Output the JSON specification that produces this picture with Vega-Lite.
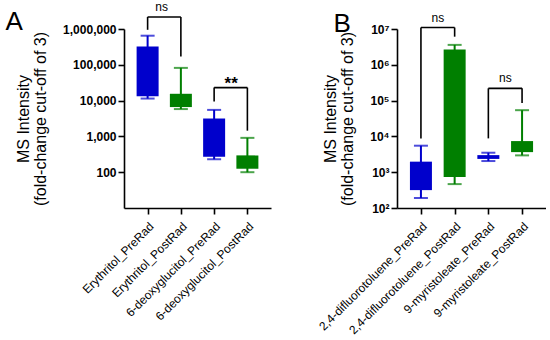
{
  "$schema": "https://vega.github.io/schema/vega-lite/v6.json",
  "padding": {"left": 5, "top": 0, "right": 0, "bottom": 0},
  "bounds": "flush",
  "spacing": 126,
  "config": {
    "view": {"stroke": null},
    "font": "Liberation Sans",
    "axis": {"domainColor": "#000", "tickColor": "#000", "labelColor": "#000", "titleColor": "#000", "domainWidth": 1.6, "tickWidth": 1.6, "tickSize": 6, "grid": false, "labelFont": "Liberation Sans", "titleFont": "Liberation Sans"}
  },
  "datasets": {
    "boxA": [
      {"cat": "Erythritol_PreRad", "cond": "PreRad", "min": 11400, "q1": 13200, "q3": 325000, "max": 650000},
      {"cat": "Erythritol_PostRad", "cond": "PostRad", "min": 5800, "q1": 6600, "q3": 15500, "max": 82000},
      {"cat": "6-deoxyglucitol_PreRad", "cond": "PreRad", "min": 230, "q1": 270, "q3": 3160, "max": 5500},
      {"cat": "6-deoxyglucitol_PostRad", "cond": "PostRad", "min": 100, "q1": 125, "q3": 295, "max": 910}
    ],
    "boxB": [
      {"cat": "2,4-difluorotoluene_PreRad", "cond": "PreRad", "min": 190, "q1": 316, "q3": 1970, "max": 5500},
      {"cat": "2,4-difluorotoluene_PostRad", "cond": "PostRad", "min": 465, "q1": 740, "q3": 2660000, "max": 3600000},
      {"cat": "9-myristoleate_PreRad", "cond": "PreRad", "min": 2050, "q1": 2350, "q3": 3000, "max": 3500},
      {"cat": "9-myristoleate_PostRad", "cond": "PostRad", "min": 2950, "q1": 3640, "q3": 7400, "max": 54000}
    ],
    "brA": [
      {"x1": "Erythritol_PreRad", "x2": "Erythritol_PostRad", "top": 2170000, "yl": 950000, "yr": 171000, "label": "ns"},
      {"x1": "6-deoxyglucitol_PreRad", "x2": "6-deoxyglucitol_PostRad", "top": 23100, "yl": 9400, "yr": 1445, "label": "**"}
    ],
    "brB": [
      {"x1": "2,4-difluorotoluene_PreRad", "x2": "2,4-difluorotoluene_PostRad", "top": 11000000, "yl": 8800, "yr": 6100000, "label": "ns"},
      {"x1": "9-myristoleate_PreRad", "x2": "9-myristoleate_PostRad", "top": 220000, "yl": 8800, "yr": 85700, "label": "ns"}
    ]
  },
  "hconcat": [
    {
      "width": 147,
      "height": 179,
      "title": {"text": "A", "anchor": "start", "frame": "bounds", "fontSize": 26, "fontWeight": "normal", "font": "Liberation Sans", "baseline": "top", "offset": -34, "dx": -10, "color": "#000"},
      "encoding": {
        "x": {"field": "cat", "type": "nominal", "scale": {"type": "point", "padding": 0.71, "domain": ["Erythritol_PreRad", "Erythritol_PostRad", "6-deoxyglucitol_PreRad", "6-deoxyglucitol_PostRad"]}, "axis": {"title": null, "labelAngle": -45, "labelFontSize": 12, "labelPadding": 6.5, "labelAlign": "right", "labelBaseline": "top"}},
        "color": {"field": "cond", "type": "nominal", "scale": {"domain": ["PreRad", "PostRad"], "range": ["#0000CC", "#007F00"]}, "legend": null}
      },
      "layer": [
        {"data": {"name": "boxA"}, "mark": {"type": "rule", "strokeWidth": 2},
         "encoding": {"y": {"field": "min", "type": "quantitative", "scale": {"type": "log", "domain": [10, 1000000]},
           "axis": {"values": [100, 1000, 10000, 100000, 1000000], "format": ",d", "labelFontWeight": "bold", "labelFontSize": 12, "labelPadding": 2, "titlePadding": 14, "title": ["MS Intensity", "(fold-change cut-off  of 3)"], "titleFontSize": 16, "titleFontWeight": "normal", "titleLineHeight": 17}},
           "y2": {"field": "max"}}},
        {"data": {"name": "boxA"}, "mark": {"type": "bar", "size": 22},
         "encoding": {"y": {"field": "q1", "type": "quantitative", "scale": {"type": "log", "domain": [10, 1000000]}}, "y2": {"field": "q3"}}},
        {"data": {"name": "boxA"}, "mark": {"type": "tick", "size": 14, "thickness": 2},
         "encoding": {"y": {"field": "min", "type": "quantitative", "scale": {"type": "log", "domain": [10, 1000000]}}}},
        {"data": {"name": "boxA"}, "mark": {"type": "tick", "size": 14, "thickness": 2},
         "encoding": {"y": {"field": "max", "type": "quantitative", "scale": {"type": "log", "domain": [10, 1000000]}}}},
        {"data": {"name": "brA"}, "mark": {"type": "rule", "strokeWidth": 1.6},
         "encoding": {"x": {"field": "x1", "type": "nominal"}, "x2": {"field": "x2"}, "y": {"field": "top", "type": "quantitative", "scale": {"type": "log", "domain": [10, 1000000]}}, "color": {"value": "#000"}}},
        {"data": {"name": "brA"}, "mark": {"type": "rule", "strokeWidth": 1.6},
         "encoding": {"x": {"field": "x1", "type": "nominal"}, "y": {"field": "yl", "type": "quantitative", "scale": {"type": "log", "domain": [10, 1000000]}}, "y2": {"field": "top"}, "color": {"value": "#000"}}},
        {"data": {"name": "brA"}, "mark": {"type": "rule", "strokeWidth": 1.6},
         "encoding": {"x": {"field": "x2", "type": "nominal"}, "y": {"field": "yr", "type": "quantitative", "scale": {"type": "log", "domain": [10, 1000000]}}, "y2": {"field": "top"}, "color": {"value": "#000"}}},
        {"data": {"name": "brA"}, "transform": [{"filter": "datum.label == 'ns'"}], "mark": {"type": "text", "dx": 14, "dy": -6, "baseline": "alphabetic", "fontSize": 12, "font": "Liberation Sans"},
         "encoding": {"x": {"field": "x1", "type": "nominal"}, "y": {"field": "top", "type": "quantitative", "scale": {"type": "log", "domain": [10, 1000000]}}, "text": {"field": "label"}, "color": {"value": "#000"}}},
        {"data": {"name": "brA"}, "transform": [{"filter": "datum.label == '**'"}], "mark": {"type": "text", "dx": 17, "dy": 1, "baseline": "alphabetic", "fontSize": 17, "fontWeight": "bold", "font": "Liberation Sans"},
         "encoding": {"x": {"field": "x1", "type": "nominal"}, "y": {"field": "top", "type": "quantitative", "scale": {"type": "log", "domain": [10, 1000000]}}, "text": {"field": "label"}, "color": {"value": "#000"}}}
      ]
    },
    {
      "width": 149,
      "height": 179,
      "title": {"text": "B", "anchor": "start", "frame": "bounds", "fontSize": 26, "fontWeight": "normal", "font": "Liberation Sans", "baseline": "top", "offset": -25, "dx": 17, "color": "#000"},
      "encoding": {
        "x": {"field": "cat", "type": "nominal", "scale": {"type": "point", "padding": 0.71, "domain": ["2,4-difluorotoluene_PreRad", "2,4-difluorotoluene_PostRad", "9-myristoleate_PreRad", "9-myristoleate_PostRad"]}, "axis": {"title": null, "labelAngle": -45, "labelFontSize": 12, "labelPadding": 6.5, "labelAlign": "right", "labelBaseline": "top"}},
        "color": {"field": "cond", "type": "nominal", "scale": {"domain": ["PreRad", "PostRad"], "range": ["#0000CC", "#007F00"]}, "legend": null}
      },
      "layer": [
        {"data": {"name": "boxB"}, "mark": {"type": "rule", "strokeWidth": 2},
         "encoding": {"y": {"field": "min", "type": "quantitative", "scale": {"type": "log", "domain": [100, 10000000]},
           "axis": {"values": [100, 1000, 10000, 100000, 1000000, 10000000], "labelExpr": "'10' + ['⁰','¹','²','³','⁴','⁵','⁶','⁷'][round(log(datum.value)/LN10)]", "labelFontWeight": "bold", "labelFontSize": 12, "labelPadding": 2, "titlePadding": 14, "title": ["MS Intensity", "(fold-change cut-off of 3)"], "titleFontSize": 16, "titleFontWeight": "normal", "titleLineHeight": 17}},
           "y2": {"field": "max"}}},
        {"data": {"name": "boxB"}, "mark": {"type": "bar", "size": 22},
         "encoding": {"y": {"field": "q1", "type": "quantitative", "scale": {"type": "log", "domain": [100, 10000000]}}, "y2": {"field": "q3"}}},
        {"data": {"name": "boxB"}, "mark": {"type": "tick", "size": 14, "thickness": 2},
         "encoding": {"y": {"field": "min", "type": "quantitative", "scale": {"type": "log", "domain": [100, 10000000]}}}},
        {"data": {"name": "boxB"}, "mark": {"type": "tick", "size": 14, "thickness": 2},
         "encoding": {"y": {"field": "max", "type": "quantitative", "scale": {"type": "log", "domain": [100, 10000000]}}}},
        {"data": {"name": "brB"}, "mark": {"type": "rule", "strokeWidth": 1.6},
         "encoding": {"x": {"field": "x1", "type": "nominal"}, "x2": {"field": "x2"}, "y": {"field": "top", "type": "quantitative", "scale": {"type": "log", "domain": [100, 10000000]}}, "color": {"value": "#000"}}},
        {"data": {"name": "brB"}, "mark": {"type": "rule", "strokeWidth": 1.6},
         "encoding": {"x": {"field": "x1", "type": "nominal"}, "y": {"field": "yl", "type": "quantitative", "scale": {"type": "log", "domain": [100, 10000000]}}, "y2": {"field": "top"}, "color": {"value": "#000"}}},
        {"data": {"name": "brB"}, "mark": {"type": "rule", "strokeWidth": 1.6},
         "encoding": {"x": {"field": "x2", "type": "nominal"}, "y": {"field": "yr", "type": "quantitative", "scale": {"type": "log", "domain": [100, 10000000]}}, "y2": {"field": "top"}, "color": {"value": "#000"}}},
        {"data": {"name": "brB"}, "mark": {"type": "text", "dx": 17, "dy": -6, "baseline": "alphabetic", "fontSize": 12, "font": "Liberation Sans"},
         "encoding": {"x": {"field": "x1", "type": "nominal"}, "y": {"field": "top", "type": "quantitative", "scale": {"type": "log", "domain": [100, 10000000]}}, "text": {"field": "label"}, "color": {"value": "#000"}}}
      ]
    }
  ]
}
